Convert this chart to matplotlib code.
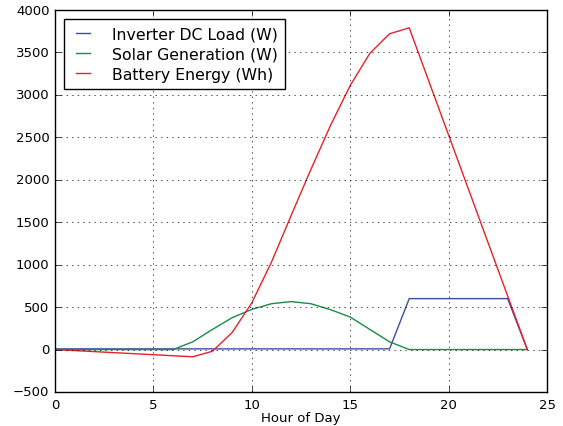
import matplotlib
matplotlib.use("Agg")
import matplotlib.pyplot as plt

plt.style.use("classic")
plt.rcParams["font.family"] = ["DejaVu Sans"]

load_hours = [0, 17, 18, 23, 24]
load_w = [8, 8, 600, 600, 0]

solar_hours = [0, 6, 7, 8, 9, 10, 11, 12, 13, 14, 15, 16, 17, 18, 24]
solar_w = [0, 0, 91, 237, 375, 473, 540, 565, 540, 470, 383, 237, 91, 0, 0]

batt_hours = [0, 7, 8, 9, 10, 11, 12, 13, 14, 15, 16, 17, 18, 24]
batt_wh = [0, -85, -20, 200, 550, 1030, 1580, 2120, 2640, 3110, 3490, 3720, 3790, 0]

fig = plt.figure(figsize=(5.63, 4.27), dpi=100, facecolor="white")
ax = fig.add_axes([55 / 563, 1 - 393 / 427, 492 / 563, 382 / 427])
ax.plot(load_hours, load_w, color="#3b4fa0", lw=1.0, label="Inverter DC Load (W)")
ax.plot(solar_hours, solar_w, color="#1a8c48", lw=1.0, label="Solar Generation (W)")
ax.plot(batt_hours, batt_wh, color="#e8202a", lw=1.0, label="Battery Energy (Wh)")

ax.set_xlim(0, 25)
ax.set_ylim(-500, 4000)
ax.set_xticks([0, 5, 10, 15, 20, 25])
ax.set_yticks(range(-500, 4001, 500))
ax.grid(True, linestyle=":", color="black")
ax.tick_params(labelsize=9.5, pad=4)
ax.set_xlabel("Hour of Day", fontsize=9.5, labelpad=0)
ax.legend(loc="upper left", fontsize=11.3, handlelength=1.5, handletextpad=1.1,
          labelspacing=0.33, borderpad=0.45, borderaxespad=0.6)

fig.savefig("out.png", dpi=100, facecolor="white")
